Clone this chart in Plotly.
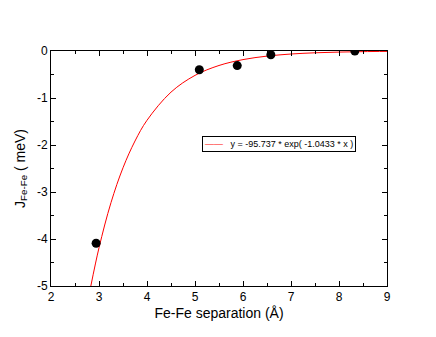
import plotly.graph_objects as go

# computed J values (meV) vs Fe-Fe separation (Angstrom)
sep = [2.94, 5.09, 5.88, 6.58, 8.33]
j_fefe = [-4.09, -0.40, -0.31, -0.08, 0.0]

# fitted curve y = -95.737 * exp(-1.0433 * x)
fit_x = [2.83, 3.0, 3.25, 3.5, 3.75, 4.0, 4.5, 5.0, 5.5, 6.0, 6.5, 7.0, 7.5, 8.0, 8.5, 9.0]
fit_y = [-5.0, -4.187, -3.225, -2.485, -1.915, -1.474, -0.875, -0.519, -0.308,
         -0.183, -0.109, -0.064, -0.038, -0.023, -0.0135, -0.008]
fit_label = "y = -95.737 * exp( -1.0433 * x )"

y_ticks = [-5, -4, -3, -2, -1, 0]
y_ticklabels = ["-5", "-4", "-3", "-2", "-1", "0"]

fig = go.Figure()
fig.add_trace(go.Scatter(
    x=fit_x, y=fit_y, mode="lines", line=dict(color="red", width=1, shape="spline"),
    name=fit_label, showlegend=False
))
fig.add_trace(go.Scatter(
    x=sep, y=j_fefe, mode="markers", marker=dict(color="black", size=9),
    showlegend=False
))

axis_common = dict(
    showline=True, linecolor="black", linewidth=1, mirror="ticks",
    ticks="inside", ticklen=5, tickcolor="black", showgrid=False,
    tickfont=dict(size=12, color="black"),
    minor=dict(ticks="inside", ticklen=3, dtick=0.5, tickcolor="black"),
)

# legend box drawn as an annotation (xmgrace style: short sample line)
fig.add_annotation(
    x=0.68, y=0.606, xref="paper", yref="paper", showarrow=False,
    xanchor="center", yanchor="middle",
    text="<span style='color:red'>——</span>   " + fit_label,
    font=dict(size=9, color="black"),
    bordercolor="black", borderwidth=1, borderpad=2, bgcolor="white",
)

fig.update_layout(
    width=436, height=337,
    margin=dict(l=43, r=57, t=43, b=59),
    plot_bgcolor="white", paper_bgcolor="white",
    font=dict(family="Liberation Sans, Arial, sans-serif", color="black"),
    showlegend=False,
    xaxis=dict(range=[2, 9], dtick=1, zeroline=False,
               title=dict(text="Fe-Fe separation (Å)", font=dict(size=14), standoff=4),
               **axis_common),
    yaxis=dict(range=[-5, 0], tickvals=y_ticks, ticktext=y_ticklabels,
               zeroline=True, zerolinecolor="gray", zerolinewidth=1,
               title=dict(text="J<sub>Fe-Fe</sub> ( meV)", font=dict(size=14), standoff=8),
               **axis_common),
)

fig.write_html("out.html")
